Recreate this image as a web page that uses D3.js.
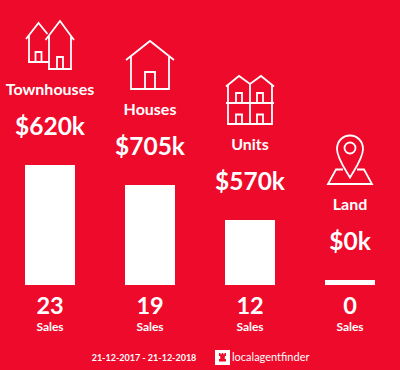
<!DOCTYPE html>
<html>
<head>
<meta charset="utf-8">
<script src="https://cdn.jsdelivr.net/npm/d3@7"></script>
<style>
html,body{margin:0;padding:0;background:#ed0a2a;}
svg{display:block;}
text{font-family:Lato,sans-serif;fill:#fff;text-anchor:middle;}
</style>
</head>
<body>
<div id="chart"></div>
<script>
var categories = ["Townhouses","Houses","Units","Land"];
var prices = ["$620k","$705k","$570k","$0k"];
var sales = [23,19,12,0];
var dateRange = "21-12-2017 - 21-12-2018";

var width = 400, height = 370, baseline = 285, red = "#ed0a2a";

// each column is 100px wide, bar takes 50
var x = d3.scaleBand()
    .domain(categories)
    .range([0,400]);

// zero sales still gets a 5px stub
var y = d3.scaleLinear()
    .domain([0,23])
    .range([5,120]);

var barW = 50;

// icons drawn around (column centre, bar top)
var icons = {
  Townhouses: "M-4.5,-125 L10,-144 L24,-125 M-1,-129 V-96 H21 V-129 M7,-96 V-108 H13 V-96 M-24,-126 L-11.5,-142 L-2.5,-131 M-21,-130 V-103 H-1 M-14.5,-103 V-113 H-8.5 V-103",
  Houses: "M-24,-125 L0,-144 L24,-125 M-19,-129 V-96 H19 V-129 M-5,-96 V-113 H5 V-96",
  Units: "M-24,-133.5 L-11,-144 L0,-136 L11,-144 L24,-133.5 M-22,-135 V-96 H22 V-135 M0,-136 V-96 M-24,-117 H24 M-14,-117 V-127 H-8 V-117 M7,-117 V-127 H13 V-117 M-14,-96 V-105.5 H-8 V-96 M7,-96 V-105.5 H13 V-96",
  Land: "M0,-102.5 C-5,-111 -13,-122 -13,-131 C-13,-139 -7,-144.5 0,-144.5 C7,-144.5 13,-139 13,-131 C13,-122 5,-111 0,-102.5 Z M-7,-110.5 H-14 L-22,-96 H22 L14,-110.5 H7"
};

var svg = d3.select("#chart")
    .append("svg")
    .attr("width",width)
    .attr("height",height);

var col = svg.selectAll(".col")
    .data(categories)
    .enter()
    .append("g")
    .attr("class","col")
    .attr("transform",function(d){ return "translate("+(x(d)+x.bandwidth()/2)+",0)"; });

col.append("rect")
    .attr("x",-barW/2)
    .attr("y",function(d,i){ return baseline-y(sales[i]); })
    .attr("width",barW)
    .attr("height",function(d,i){ return y(sales[i]); })
    .style("fill","#fff");

col.append("path")
    .attr("d",function(d){ return icons[d]; })
    .attr("transform",function(d,i){ return "translate(0,"+(baseline-y(sales[i]))+")"; })
    .style("fill","none")
    .style("stroke","#fff")
    .style("stroke-width","1.8px");

col.filter(function(d){ return d=="Land"; })
    .append("circle")
    .attr("cx",0)
    .attr("cy",baseline-y(0)-132)
    .attr("r",5.5)
    .style("fill","none")
    .style("stroke","#fff")
    .style("stroke-width","1.8px");

col.append("text")
    .attr("y",function(d,i){ return baseline-y(sales[i])-70; })
    .style("font-size","16px")
    .style("font-weight","700")
    .text(function(d){ return d; });

col.append("text")
    .attr("y",function(d,i){ return baseline-y(sales[i])-30; })
    .style("font-size","24.5px")
    .style("font-weight","700")
    .text(function(d,i){ return prices[i]; });

col.append("text")
    .attr("y",314)
    .style("font-size","23.5px")
    .style("font-weight","700")
    .text(function(d,i){ return sales[i]; });

col.append("text")
    .attr("y",331)
    .style("font-size","12px")
    .style("font-weight","700")
    .text("Sales");

// footer
svg.append("text")
    .attr("x",144)
    .attr("y",361)
    .style("font-size","9px")
    .style("font-weight","700")
    .text(dateRange);

svg.append("rect")
    .attr("x",215)
    .attr("y",350)
    .attr("width",15)
    .attr("height",15)
    .style("fill","#fff");

svg.append("path")
    .attr("d","M219,353 h1.5 v1.2 h1.2 v-1.2 h1.6 v1.2 h1.2 v-1.2 h1.5 v3 h-1.2 v3 h1.2 v2.5 h-7 v-2.5 h1.2 v-3 h-1.2 Z")
    .style("fill",red);

svg.append("text")
    .attr("x",232)
    .attr("y",361)
    .style("text-anchor","start")
    .style("font-size","11px")
    .style("font-weight","400")
    .text("localagentfinder");
</script>
</body>
</html>
